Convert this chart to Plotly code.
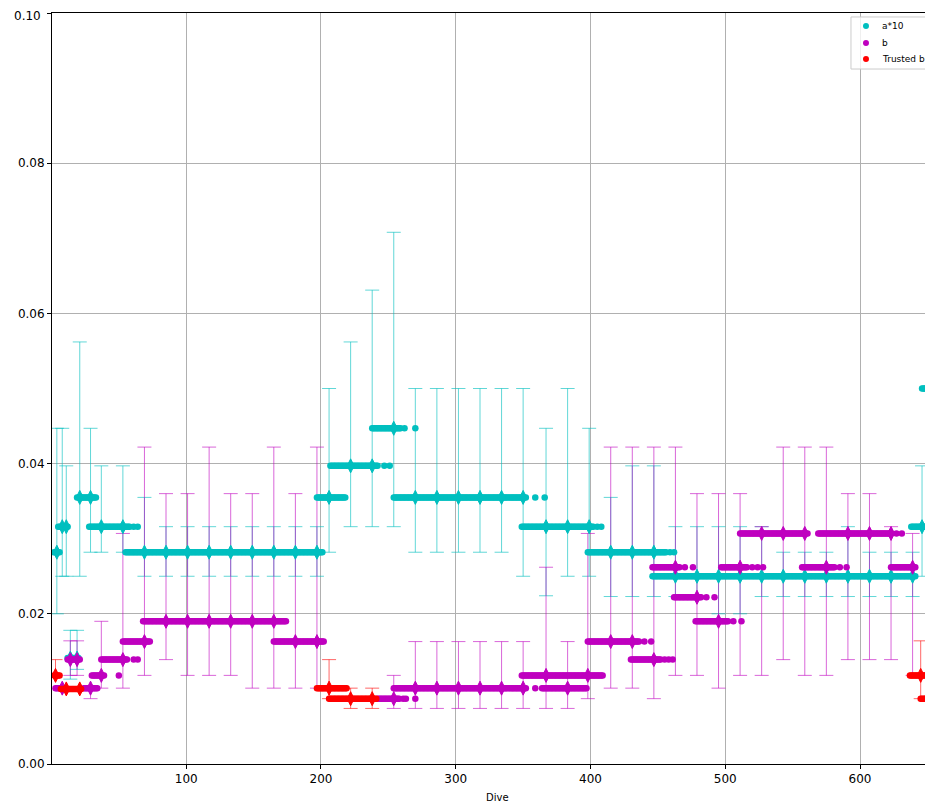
import plotly.graph_objects as go

# ---------------- data ----------------
# Dots: runs of consecutive dives sharing a value (start dive, end dive, value)
a10_runs = [
    (2, 6, 0.0282), (5, 12, 0.0316), (12, 20, 0.0141), (19, 33, 0.0355),
    (28, 58, 0.0316), (61, 61, 0.0316), (64, 64, 0.0316),
    (55, 201, 0.0282), (197, 218, 0.0355), (207, 242, 0.0397),
    (247, 247, 0.0397), (251, 251, 0.0397),
    (238, 259, 0.0447), (262, 262, 0.0447), (270, 270, 0.0447),
    (254, 352, 0.0355), (359, 359, 0.0355), (366, 366, 0.0355),
    (349, 402, 0.0316), (405, 405, 0.0316), (408, 408, 0.0316),
    (398, 456, 0.0282), (459, 459, 0.0282), (462, 462, 0.0282),
    (446, 641, 0.0250), (638, 652, 0.0316), (646, 655, 0.0500),
]
b_runs = [
    (3, 10, 0.0101), (12, 21, 0.0139), (24, 34, 0.0101), (30, 39, 0.0118),
    (37, 56, 0.0139), (61, 61, 0.0139), (64, 64, 0.0139), (50, 50, 0.0118),
    (53, 73, 0.0163), (68, 174, 0.0190), (165, 202, 0.0163),
    (242, 258, 0.0087), (261, 261, 0.0087), (263, 263, 0.0087), (270, 270, 0.0087),
    (254, 352, 0.0101), (359, 359, 0.0101), (364, 397, 0.0101),
    (349, 409, 0.0118),
    (398, 436, 0.0163), (440, 440, 0.0163), (445, 445, 0.0163),
    (430, 452, 0.0139), (455, 455, 0.0139), (458, 458, 0.0139), (461, 461, 0.0139),
    (446, 466, 0.0262), (470, 470, 0.0262), (476, 476, 0.0262),
    (462, 482, 0.0222), (486, 486, 0.0222), (492, 492, 0.0222),
    (478, 502, 0.0190), (506, 506, 0.0190), (512, 512, 0.0190),
    (497, 516, 0.0262), (520, 520, 0.0262), (524, 524, 0.0262), (528, 528, 0.0262),
    (511, 561, 0.0307),
    (557, 581, 0.0262), (585, 585, 0.0262), (590, 590, 0.0262),
    (569, 623, 0.0307), (627, 627, 0.0307), (631, 631, 0.0307),
    (623, 641, 0.0262),
]
trusted_runs = [
    (2, 6, 0.0118), (7, 22, 0.0100),
    (197, 219, 0.0101), (206, 241, 0.0087),
    (637, 653, 0.0118), (645, 655, 0.0087),
]

# Estimates with error bars: dive, value, lower bound, upper bound
a10_est_x = [4, 8, 11, 14, 19, 21, 29, 37, 53,
             69, 85, 101, 117, 133, 149, 165, 181, 197,
             206, 222, 238, 254, 270, 286, 302, 318, 334, 350,
             367, 383, 399, 415, 431, 447,
             463, 479, 495, 511, 527, 543, 559, 575, 591, 607, 623, 639, 646]
a10_est_y = [0.0282, 0.0316, 0.0316, 0.0141, 0.0141, 0.0355, 0.0355, 0.0316, 0.0316,
             0.0282, 0.0282, 0.0282, 0.0282, 0.0282, 0.0282, 0.0282, 0.0282, 0.0282,
             0.0355, 0.0397, 0.0397, 0.0447, 0.0355, 0.0355, 0.0355, 0.0355, 0.0355, 0.0355,
             0.0316, 0.0316, 0.0316, 0.0282, 0.0282, 0.0282,
             0.0250, 0.0250, 0.0250, 0.0250, 0.0250, 0.0250, 0.0250, 0.0250, 0.0250,
             0.0250, 0.0250, 0.0250, 0.0316]
a10_est_lo = [0.0200, 0.0250, 0.0250, 0.0113, 0.0126, 0.0250, 0.0282, 0.0282, 0.0282,
              0.0250, 0.0250, 0.0250, 0.0250, 0.0250, 0.0250, 0.0250, 0.0250, 0.0250,
              0.0282, 0.0316, 0.0316, 0.0316, 0.0282, 0.0282, 0.0282, 0.0282, 0.0282, 0.0250,
              0.0224, 0.0250, 0.0250, 0.0223, 0.0223, 0.0223,
              0.0223, 0.0223, 0.0200, 0.0200, 0.0223, 0.0223, 0.0223, 0.0223, 0.0223,
              0.0223, 0.0223, 0.0223, 0.0250]
a10_est_hi = [0.0447, 0.0447, 0.0397, 0.0178, 0.0178, 0.0562, 0.0447, 0.0397, 0.0397,
              0.0355, 0.0316, 0.0316, 0.0316, 0.0316, 0.0316, 0.0316, 0.0316, 0.0316,
              0.0500, 0.0562, 0.0631, 0.0708, 0.0500, 0.0500, 0.0500, 0.0500, 0.0500, 0.0500,
              0.0447, 0.0500, 0.0447, 0.0355, 0.0397, 0.0397,
              0.0316, 0.0316, 0.0316, 0.0316, 0.0316, 0.0282, 0.0282, 0.0282, 0.0316,
              0.0282, 0.0282, 0.0282, 0.0397]

b_est_x = [8, 14, 19, 29, 37, 53, 69, 85, 101, 117, 133, 149, 165, 181, 197,
           254, 270, 286, 302, 318, 334, 350, 367, 383, 398,
           415, 431, 447, 463, 479, 495, 511, 527, 543, 559, 575, 591, 607, 623, 639]
b_est_y = [0.0101, 0.0139, 0.0139, 0.0101, 0.0118, 0.0139, 0.0163, 0.0190, 0.0190, 0.0190,
           0.0190, 0.0190, 0.0190, 0.0163, 0.0163,
           0.0087, 0.0101, 0.0101, 0.0101, 0.0101, 0.0101, 0.0101, 0.0118, 0.0101, 0.0118,
           0.0163, 0.0163, 0.0139, 0.0262, 0.0222, 0.0190, 0.0262, 0.0307, 0.0307, 0.0307,
           0.0262, 0.0307, 0.0307, 0.0307, 0.0262]
b_est_lo = [0.0101, 0.0118, 0.0118, 0.0087, 0.0101, 0.0101, 0.0118, 0.0139, 0.0118, 0.0118,
            0.0118, 0.0101, 0.0101, 0.0101, 0.0101,
            0.0074, 0.0074, 0.0074, 0.0074, 0.0074, 0.0074, 0.0074, 0.0074, 0.0074, 0.0087,
            0.0101, 0.0101, 0.0087, 0.0118, 0.0118, 0.0101, 0.0118, 0.0118, 0.0139, 0.0118,
            0.0118, 0.0139, 0.0139, 0.0139, 0.0118]
b_est_hi = [0.0101, 0.0164, 0.0164, 0.0101, 0.0190, 0.0307, 0.0422, 0.0360, 0.0360, 0.0422,
            0.0360, 0.0360, 0.0422, 0.0360, 0.0422,
            0.0118, 0.0163, 0.0163, 0.0163, 0.0163, 0.0163, 0.0163, 0.0262, 0.0163, 0.0307,
            0.0422, 0.0422, 0.0422, 0.0422, 0.0360, 0.0360, 0.0360, 0.0316, 0.0422, 0.0422,
            0.0422, 0.0360, 0.0360, 0.0316, 0.0307]

trusted_est_x = [3, 11, 21, 206, 222, 238, 645]
trusted_est_y = [0.0118, 0.0100, 0.0100, 0.0101, 0.0087, 0.0087, 0.0118]
trusted_est_lo = [0.0118, 0.0100, 0.0100, 0.0087, 0.0074, 0.0074, 0.0087]
trusted_est_hi = [0.0139, 0.0100, 0.0100, 0.0139, 0.0101, 0.0101, 0.0164]

series_names = ["a*10", "b", "Trusted b"]
x_ticks = [100, 200, 300, 400, 500, 600]
y_ticks = [0.00, 0.02, 0.04, 0.06, 0.08, 0.10]
x_title = "Dive"

# ---------------- helpers ----------------
def expand(runs):
    xs, ys = [], []
    for s, e, v in runs:
        for d in range(s, e + 1):
            xs.append(d)
            ys.append(v)
    return xs, ys

colors = ["#00bfbf", "#bf00bf", "#ff0000"]
err_colors = ["rgba(0,191,191,0.62)", "rgba(191,0,191,0.6)", "rgba(255,0,0,0.6)"]
series = [
    (a10_runs, a10_est_x, a10_est_y, a10_est_lo, a10_est_hi),
    (b_runs, b_est_x, b_est_y, b_est_lo, b_est_hi),
    (trusted_runs, trusted_est_x, trusted_est_y, trusted_est_lo, trusted_est_hi),
]

fig = go.Figure()

# error bars first (below all markers)
for (runs, ex, ey, elo, ehi), col, ecol in zip(series, colors, err_colors):
    fig.add_trace(go.Scatter(
        x=ex, y=ey, mode="markers", showlegend=False, hoverinfo="skip",
        marker=dict(size=2, color=col, opacity=0),
        error_y=dict(type="data", symmetric=False,
                     array=[h - v for h, v in zip(ehi, ey)],
                     arrayminus=[v - l for v, l in zip(ey, elo)],
                     color=ecol, thickness=1, width=7),
    ))

for (runs, ex, ey, elo, ehi), col, name in zip(series, colors, series_names):
    dx, dy = expand(runs)
    fig.add_trace(go.Scatter(
        x=dx, y=dy, mode="markers", name=name, showlegend=False,
        marker=dict(size=6.5, color=col, line=dict(width=0)),
    ))
    fig.add_trace(go.Scatter(
        x=ex, y=ey, mode="markers", name=name, showlegend=False,
        marker=dict(symbol="diamond-tall", size=10, color=col,
                    line=dict(width=1, color=col)),
    ))

# ---- legend box in the upper right (runs past the visible edge, like the original) ----
shapes = [dict(type="rect", xref="paper", yref="paper",
               x0=0.9152, x1=1.03, y0=0.9254, y1=0.9947,
               line=dict(color="#cccccc", width=1),
               fillcolor="rgba(255,255,255,0.8)", layer="above")]
annotations = []
leg_y = [0.9827, 0.9601, 0.9387]
for name, col, yy in zip(series_names, colors, leg_y):
    shapes.append(dict(type="circle", xref="paper", yref="paper",
                       xsizemode="pixel", ysizemode="pixel",
                       xanchor=0.9324, yanchor=yy, x0=-3, x1=3, y0=-3, y1=3,
                       fillcolor=col, line=dict(width=0), layer="above"))
    annotations.append(dict(xref="paper", yref="paper", x=0.9485, y=yy,
                            xanchor="left", yanchor="middle", showarrow=False,
                            text=name, font=dict(size=9, color="black")))

# top y tick label, nudged down a little so it is not clipped at the page top
annotations.append(dict(xref="paper", yref="paper", x=0, y=1, xshift=-9, yshift=-3,
                        xanchor="right", yanchor="middle", showarrow=False,
                        text="%.2f" % y_ticks[-1], font=dict(size=12, color="black")))
# x axis title
annotations.append(dict(xref="paper", yref="paper", x=0.5104, y=0, yshift=-33,
                        xanchor="center", yanchor="middle", showarrow=False,
                        text=x_title, font=dict(size=10, color="black")))

# The page adds an 8px body margin; the visible area ends 8px before the window edge.
fig.update_layout(
    width=917, height=798,
    margin=dict(l=44, r=0, t=5, b=42, autoexpand=False),
    paper_bgcolor="white", plot_bgcolor="white",
    font=dict(family="DejaVu Sans", size=12, color="black"),
    showlegend=False,
    shapes=shapes, annotations=annotations,
)
fig.update_xaxes(
    range=[0.4, 648.2], tickvals=x_ticks, ticktext=[str(t) for t in x_ticks],
    showgrid=True, gridcolor="#b0b0b0", gridwidth=1,
    showline=True, linecolor="black", linewidth=1, mirror=True,
    ticks="outside", ticklen=4, tickcolor="black", zeroline=False,
)
fig.update_yaxes(
    range=[0, 0.1], tickvals=y_ticks,
    ticktext=["%.2f" % t for t in y_ticks[:-1]] + [""],
    showgrid=True, gridcolor="#b0b0b0", gridwidth=1,
    showline=True, linecolor="black", linewidth=1, mirror=False,
    ticks="outside", ticklen=4, tickcolor="black", zeroline=False,
)

fig.write_html("out.html")
